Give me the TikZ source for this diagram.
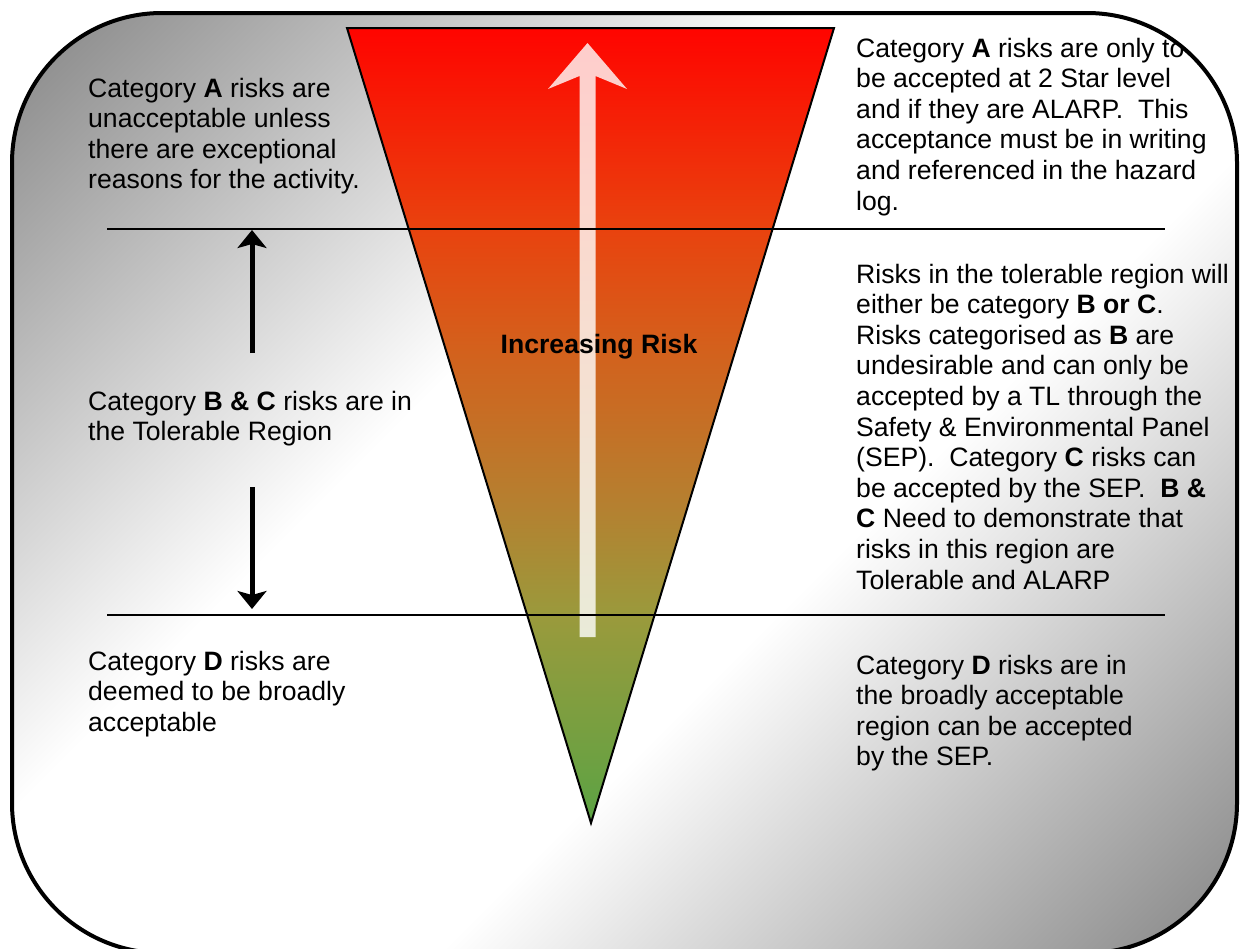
\documentclass[tikz,border=0pt]{standalone}
\usepackage{fontspec}
\setmainfont{Liberation Sans}
\usetikzlibrary{arrows.meta}
\definecolor{bggray}{RGB}{132,132,132}
\definecolor{tg0}{RGB}{255,4,0}
\definecolor{tg1}{RGB}{233,66,14}
\definecolor{tg2}{RGB}{212,96,28}
\definecolor{tg3}{RGB}{181,128,48}
\definecolor{tg4}{RGB}{154,154,60}
\definecolor{tg5}{RGB}{91,163,68}
\pgfdeclarehorizontalshading{bgshade}{100bp}{color(0bp)=(bggray); color(2.25bp)=(bggray); color(37.5bp)=(white); color(62.5bp)=(white); color(97.75bp)=(bggray); color(100bp)=(bggray)}
\pgfdeclareverticalshading{trishade}{100bp}{color(0bp)=(tg5); color(25bp)=(tg5); color(38bp)=(tg4); color(45bp)=(tg3); color(55bp)=(tg2); color(62.5bp)=(tg1); color(75bp)=(tg0); color(100bp)=(tg0)}
\tikzset{
  txt/.style={anchor=base west, inner sep=0pt, align=left, font=\fontsize{26.6}{30.6}\selectfont},
  rule/.style={line width=1.8pt, black},
  blackarrow/.style={line width=5pt, -{Stealth[length=18pt, width=29pt, inset=4pt]}},
  panel/.style={rounded corners=150pt},
}
\begin{document}
\begin{tikzpicture}[x=1pt, y=-1pt]
\useasboundingbox (0,0) rectangle (1241,948);
% background panel: diagonal grey-white-grey shading at a true 45 degrees
\begin{scope}
  \clip[panel] (12,13) rectangle (1237,953);
  \pgftransformshift{\pgfpoint{624.5pt}{-483pt}}
  \pgftransformrotate{-45}
  \pgftransformscale{16}
  \pgftransformshift{\pgfpoint{-50bp}{-50bp}}
  \pgflowlevelsynccm
  \pgftext[left,base]{\pgfuseshading{bgshade}}
\end{scope}
% triangle: red at the top (y=28) to green at the tip (y=823)
\begin{scope}
  \clip (347,28) -- (834,28) -- (591,823) -- cycle;
  \pgftransformshift{\pgfpoint{300pt}{-1220.5pt}}
  \pgftransformxscale{5.98}
  \pgftransformyscale{15.84}
  \pgflowlevelsynccm
  \pgftext[left,base]{\pgfuseshading{trishade}}
\end{scope}
\draw[line width=2pt, line join=miter] (347,28) -- (834,28) -- (591,823) -- cycle;
% big translucent arrow
\fill[white, fill opacity=0.8] (579.5,637) -- (579.5,76) -- (548,89) -- (587.5,43) -- (627,89) -- (595.5,76) -- (595.5,637) -- cycle;
% region rules
\coordinate (r1a) at (107,229); \coordinate (r1b) at (1165,229);
\coordinate (r2a) at (107,615); \coordinate (r2b) at (1165,615);
\draw[rule] (r1a) -- (r1b);
\draw[rule] (r2a) -- (r2b);
% left arrows
\coordinate (ua) at (252,353); \coordinate (ub) at (252,230);
\coordinate (da) at (252,487); \coordinate (db) at (252,609);
\draw[blackarrow] (ua) -- (ub);
\draw[blackarrow] (da) -- (db);
% texts (anchored at the baseline of their last line)
\node[txt] (lA) at (88,188.8) {Category \textbf{A} risks are\\unacceptable unless\\there are exceptional\\reasons for the activity.};
\node[txt] (lBC) at (88,440.6) {Category \textbf{B \& C} risks are in\\the Tolerable Region};
\node[txt] (lD) at (88,731.2) {Category \textbf{D} risks are\\deemed to be broadly\\acceptable};
\node[txt] (rA) at (856,210) {Category \textbf{A} risks are only to\\be accepted at 2 Star level\\and if they are ALARP.\ \ This\\acceptance must be in writing\\and referenced in the hazard\\log.};
\node[txt] (rBC) at (856,589) {Risks in the tolerable region will\\either be category \textbf{B or C}.\\Risks categorised as \textbf{B} are\\undesirable and can only be\\accepted by a TL through the\\Safety \& Environmental Panel\\(SEP).\ \ Category \textbf{C} risks can\\be accepted by the SEP.\ \ \textbf{B \&}\\\textbf{C} Need to demonstrate that\\risks in this region are\\Tolerable and ALARP};
\node[txt] (rD) at (856,765.8) {Category \textbf{D} risks are in\\the broadly acceptable\\region can be accepted\\by the SEP.};
\node[anchor=base, inner sep=0pt, font=\fontsize{26.6}{30.6}\selectfont\bfseries] (inc) at (599,353) {Increasing Risk};
% panel border
\draw[panel, line width=4pt] (12,13) rectangle (1237,953);
\end{tikzpicture}
\end{document}
